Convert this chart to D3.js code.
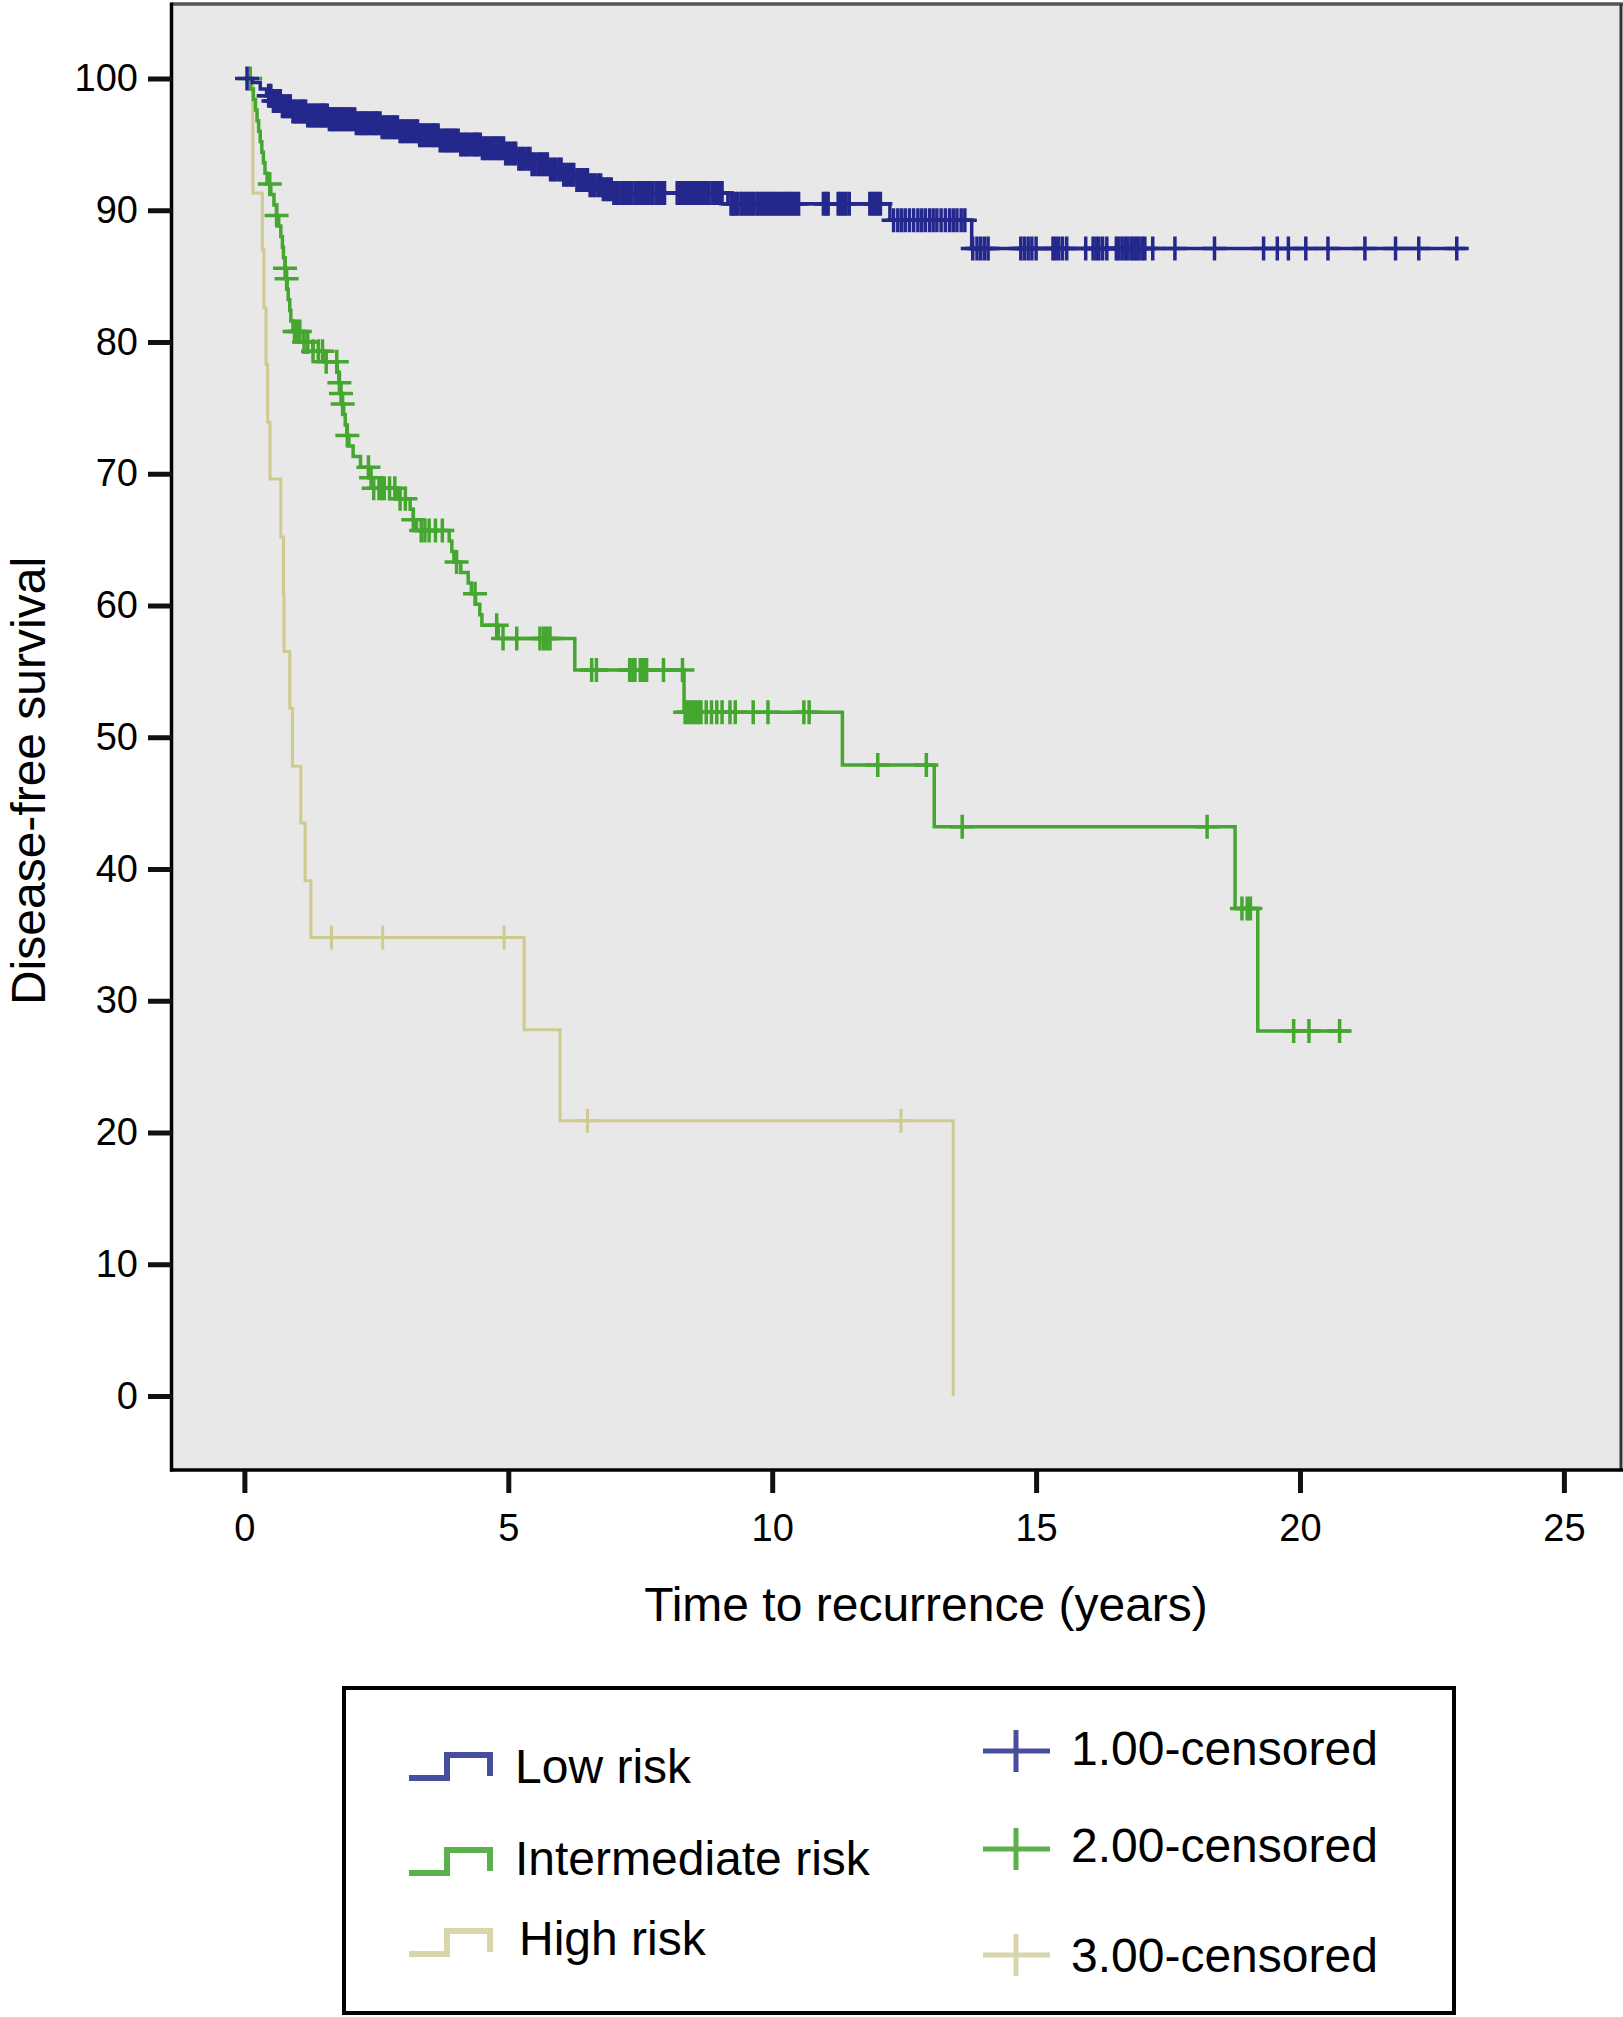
<!DOCTYPE html>
<html>
<head>
<meta charset="utf-8">
<script src="https://cdn.jsdelivr.net/npm/d3@7"></script>
<style>
  html, body { margin: 0; padding: 0; background: #fff; }
  svg { display: block; font-family: "Liberation Sans", Arial, Helvetica, sans-serif; }
</style>
</head>
<body>
<svg width="1623" height="2017"></svg>
<script>
// step points (time in years, survival %)
const lowT = [0, 0.15, 0.3, 0.42, 0.55, 0.7, 0.9, 1.2, 1.6, 2.1, 2.6, 2.95, 3.3, 3.7, 4.1, 4.5, 4.95, 5.15, 5.45, 5.8, 6.05, 6.3, 6.55, 6.8, 7.0, 9.16, 12.23, 13.78]
const lowV = [100, 99.7, 99.2, 98.7, 98.3, 97.9, 97.5, 97.2, 96.9, 96.6, 96.3, 96.0, 95.7, 95.3, 95.0, 94.7, 94.3, 93.9, 93.5, 93.1, 92.7, 92.3, 91.9, 91.6, 91.3, 90.5, 89.25, 87.1]
const lowEnd = 23.15
const lowCens = [0.05, 0.46, 0.5, 0.55, 0.59, 0.63, 0.68, 0.72, 0.76, 0.8, 0.84, 0.87, 0.92, 0.96, 0.99, 1.03, 1.07, 1.1, 1.13, 1.16, 1.2, 1.24, 1.27, 1.31, 1.34, 1.38, 1.42, 1.45, 1.48, 1.51, 1.54, 1.57, 1.61, 1.64, 1.67, 1.7, 1.73, 1.76, 1.8, 1.83, 1.87, 1.9, 1.94, 1.97, 2.01, 2.05, 2.09, 2.12, 2.17, 2.21, 2.25, 2.28, 2.32, 2.36, 2.41, 2.45, 2.49, 2.52, 2.57, 2.61, 2.66, 2.7, 2.74, 2.78, 2.82, 2.86, 2.9, 2.95, 2.99, 3.02, 3.07, 3.11, 3.16, 3.2, 3.24, 3.28, 3.32, 3.36, 3.41, 3.45, 3.5, 3.55, 3.59, 3.62, 3.67, 3.71, 3.76, 3.8, 3.84, 3.88, 3.92, 3.96, 4.0, 4.05, 4.1, 4.15, 4.2, 4.24, 4.3, 4.35, 4.39, 4.42, 4.47, 4.51, 4.56, 4.6, 4.65, 4.7, 4.74, 4.78, 4.82, 4.86, 4.91, 4.95, 5.0, 5.05, 5.1, 5.14, 5.2, 5.25, 5.3, 5.36, 5.41, 5.45, 5.5, 5.56, 5.61, 5.65, 5.7, 5.74, 5.8, 5.85, 5.9, 5.96, 6.0, 6.05, 6.1, 6.15, 6.2, 6.24, 6.3, 6.35, 6.41, 6.46, 6.5, 6.55, 6.6, 6.64, 6.7, 6.75, 6.8, 6.86, 6.9, 6.95, 7.0, 7.05, 7.1, 7.16, 7.21, 7.25, 7.3, 7.34, 7.4, 7.45, 7.5, 7.56, 7.6, 7.65, 7.7, 7.74, 7.8, 7.85, 7.9, 7.96, 8.2, 8.24, 8.28, 8.32, 8.36, 8.41, 8.45, 8.5, 8.55, 8.6, 8.64, 8.7, 8.75, 8.8, 8.86, 8.9, 8.95, 9.0, 9.05, 9.22, 9.26, 9.3, 9.35, 9.41, 9.45, 9.5, 9.55, 9.6, 9.65, 9.71, 9.75, 9.8, 9.85, 9.9, 9.95, 10.0, 10.05, 10.1, 10.16, 10.21, 10.25, 10.3, 10.35, 10.4, 10.45, 10.5, 10.97, 11.02, 11.06, 11.25, 11.3, 11.35, 11.4, 11.46, 11.85, 11.9, 11.95, 12.0, 12.05, 12.3, 12.38, 12.45, 12.52, 12.6, 12.68, 12.76, 12.83, 12.9, 12.98, 13.05, 13.12, 13.2, 13.28, 13.36, 13.43, 13.5, 13.58, 13.65, 13.8, 13.88, 13.95, 14.02, 14.09, 14.71, 14.78, 14.85, 14.92, 15.0, 15.32, 15.37, 15.43, 15.5, 15.58, 15.94, 16.08, 16.14, 16.19, 16.26, 16.34, 16.52, 16.57, 16.63, 16.69, 16.74, 16.8, 16.85, 16.9, 16.95, 17.01, 17.06, 17.21, 17.63, 18.38, 19.31, 19.57, 19.78, 20.11, 20.53, 21.23, 21.81, 22.25, 22.97]

const midT = [0, 0.12, 0.17, 0.21, 0.24, 0.27, 0.30, 0.33, 0.36, 0.39, 0.43, 0.50, 0.56, 0.61, 0.65, 0.69, 0.72, 0.74, 0.77, 0.79, 0.81, 0.83, 0.86, 0.88, 0.92, 1.12, 1.3, 1.5, 1.76, 1.79, 1.82, 1.85, 1.88, 1.91, 1.94, 1.98, 2.06, 2.2, 2.36, 2.44, 2.9, 3.14, 3.2, 3.26, 3.88, 3.93, 3.97, 4.1, 4.24, 4.3, 4.38, 4.46, 4.5, 4.81, 6.26, 8.33, 11.33, 13.07, 18.77, 19.2]
const midV = [100, 99.2, 98.4, 97.6, 96.8, 96.0, 95.2, 94.4, 93.6, 92.8, 92.0, 91.2, 90.4, 89.6, 88.8, 88.0, 87.2, 86.4, 85.6, 84.8, 84.0, 83.2, 82.4, 81.6, 80.8, 80.0, 79.3, 78.5, 77.7, 76.9, 76.1, 75.3, 74.5, 73.7, 72.9, 72.1, 71.3, 70.5, 69.7, 68.9, 68.1, 67.3, 66.5, 65.7, 64.9, 64.1, 63.3, 62.5, 61.7, 60.9, 60.1, 59.3, 58.5, 57.5, 55.1, 51.9, 47.9, 43.2, 37.0, 27.7]
const midEnd = 20.95
const midCens = [0.11, 0.48, 0.61, 0.77, 0.8, 0.95, 1.0, 1.05, 1.13, 1.2, 1.3, 1.4, 1.48, 1.55, 1.75, 1.8, 1.83, 1.86, 1.95, 2.35, 2.4, 2.45, 2.55, 2.6, 2.65, 2.75, 2.85, 2.95, 3.05, 3.2, 3.35, 3.42, 3.5, 3.62, 3.75, 4.02, 4.37, 4.78, 4.9, 5.16, 5.6, 5.67, 5.73, 5.79, 6.58, 6.67, 7.3, 7.36, 7.4, 7.5, 7.56, 7.62, 7.94, 8.3, 8.35, 8.4, 8.45, 8.5, 8.55, 8.6, 8.65, 8.75, 8.85, 8.95, 9.05, 9.2, 9.3, 9.64, 9.92, 10.6, 10.7, 12.0, 12.92, 13.6, 18.24, 18.9, 19.0, 19.06, 19.88, 20.17, 20.75]

const highT = [0, 0.16, 0.34, 0.37, 0.41, 0.44, 0.485, 0.69, 0.74, 0.75, 0.86, 0.91, 1.07, 1.15, 1.26, 5.3, 5.98, 13.43]
const highV = [100, 91.3, 87.0, 82.6, 78.3, 73.9, 69.6, 65.2, 60.9, 56.5, 52.2, 47.8, 43.5, 39.1, 34.8, 27.8, 20.9, 0]
const highEnd = 13.43
const highCens = [1.65, 2.62, 4.92, 6.5, 12.44]

const xTicks = [0, 5, 10, 15, 20, 25]
const yTicks = [0, 10, 20, 30, 40, 50, 60, 70, 80, 90, 100]
const groupNames = ["Low risk", "Intermediate risk", "High risk"]
const censorNames = ["1.00-censored", "2.00-censored", "3.00-censored"]
const lineColors = ["#24288c", "#45a630", "#cfcb8e"]
const legendColors = ["#474d9f", "#5bb04b", "#d8d6aa"]

const svg = d3.select("svg")

const x = d3.scaleLinear().domain([0, 25]).range([244.4, 1563.9])
const y = d3.scaleLinear().domain([0, 100]).range([1396, 78.5])

// plot background + frame
svg.append("rect")
  .attr("x", 171.5).attr("y", 4).attr("width", 1450).attr("height", 1466)
  .attr("fill", "#e8e8e8")
svg.append("line").attr("x1", 171.5).attr("x2", 1623).attr("y1", 4).attr("y2", 4)
  .attr("stroke", "#555").attr("stroke-width", 3.5)
svg.append("line").attr("x1", 1621).attr("x2", 1621).attr("y1", 4).attr("y2", 1470)
  .attr("stroke", "#333").attr("stroke-width", 3)
svg.append("line").attr("x1", 171.5).attr("x2", 171.5).attr("y1", 2.5).attr("y2", 1471.5)
  .attr("stroke", "#000").attr("stroke-width", 3.5)
svg.append("line").attr("x1", 170).attr("x2", 1623).attr("y1", 1470).attr("y2", 1470)
  .attr("stroke", "#000").attr("stroke-width", 3.5)

// axes
const yAxis = svg.append("g").attr("transform", "translate(172,0)")
  .call(d3.axisLeft(y).tickValues(yTicks).tickSize(24).tickPadding(10))
const xAxis = svg.append("g").attr("transform", "translate(0,1470)")
  .call(d3.axisBottom(x).tickValues(xTicks).tickSize(23).tickPadding(21))
;[yAxis, xAxis].forEach(g => {
  g.select(".domain").remove()
  g.selectAll(".tick line").attr("stroke", "#111").attr("stroke-width", 5)
  g.selectAll(".tick text").attr("fill", "#000")
    .style("font-size", "38px").style("font-family", '"Liberation Sans", Arial, sans-serif')
})

svg.append("text")
  .attr("x", 926).attr("y", 1621)
  .attr("text-anchor", "middle")
  .style("font-size", "48px")
  .text("Time to recurrence (years)")

svg.append("text")
  .attr("transform", "translate(45,781) rotate(-90)")
  .attr("text-anchor", "middle")
  .style("font-size", "48px")
  .text("Disease-free survival")

// curves
const groups = [
  {t: highT, v: highV, end: highEnd, c: highCens, col: lineColors[2], w: 3, cw: 3},
  {t: midT, v: midV, end: midEnd, c: midCens, col: lineColors[1], w: 3.5, cw: 3.5},
  {t: lowT, v: lowV, end: lowEnd, c: lowCens, col: lineColors[0], w: 3.5, cw: 3.5}
]

const step = d3.line()
  .x(d => x(d.t))
  .y(d => y(d.v))
  .curve(d3.curveStepAfter)

function survAt(g, t) {
  const i = d3.bisectRight(g.t, t) - 1
  return g.v[Math.max(i, 0)]
}

groups.forEach(g => {
  const pts = g.t.map((t, i) => ({t: t, v: g.v[i]}))
  pts.push({t: g.end, v: g.v[g.v.length - 1]})
  svg.append("path")
    .attr("d", step(pts))
    .attr("fill", "none")
    .attr("stroke", g.col)
    .attr("stroke-width", g.w)

  svg.append("g").selectAll("path")
    .data(g.c)
    .join("path")
    .attr("d", t => {
      const cx = x(t), cy = y(survAt(g, t))
      return `M${cx - 12},${cy}H${cx + 12}M${cx},${cy - 12}V${cy + 12}`
    })
    .attr("fill", "none")
    .attr("stroke", g.col)
    .attr("stroke-width", g.cw)
})

// legend
svg.append("rect")
  .attr("x", 344).attr("y", 1688).attr("width", 1110).attr("height", 325)
  .attr("fill", "#fff").attr("stroke", "#000").attr("stroke-width", 4)

const legRowY = [1778, 1873, 1954]
const legTextY = [1783, 1875, 1955]
const legTextX = [515, 515, 519]
groupNames.forEach((name, i) => {
  const b = legRowY[i]
  svg.append("path")
    .attr("d", `M409,${b}H447V${b - 23}H490V${b - 2}`)
    .attr("fill", "none")
    .attr("stroke", legendColors[i])
    .attr("stroke-width", 6)
  svg.append("text")
    .attr("x", legTextX[i]).attr("y", legTextY[i])
    .style("font-size", "48px")
    .text(name)
})

const censY = [1751, 1849, 1955]
const censTextY = [1765, 1862, 1972]
censorNames.forEach((name, i) => {
  const cy = censY[i]
  svg.append("path")
    .attr("d", `M983,${cy}H1050M1016,${cy - 21}V${cy + 21}`)
    .attr("fill", "none")
    .attr("stroke", legendColors[i])
    .attr("stroke-width", 5)
  svg.append("text")
    .attr("x", 1071).attr("y", censTextY[i])
    .style("font-size", "48px")
    .text(name)
})
</script>
</body>
</html>
